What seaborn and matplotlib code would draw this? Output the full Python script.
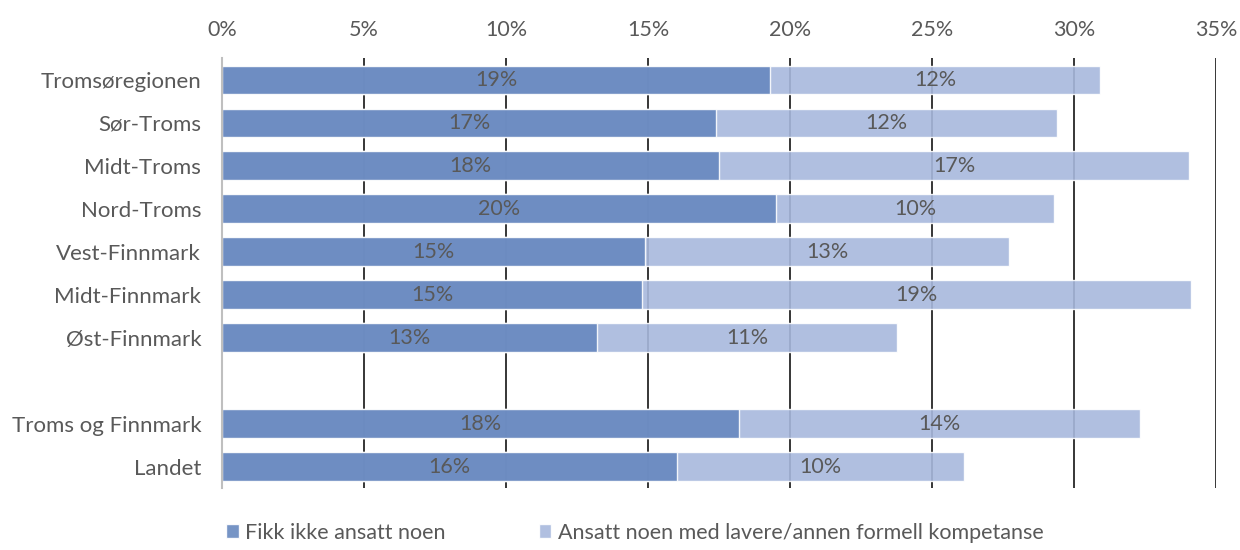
import pandas as pd
import matplotlib.pyplot as plt
import seaborn as sns
from matplotlib.patches import Patch
from matplotlib.ticker import PercentFormatter

regions = ['Tromsøregionen', 'Sør-Troms', 'Midt-Troms', 'Nord-Troms', 'Vest-Finnmark',
	'Midt-Finnmark', 'Øst-Finnmark', 'Troms og Finnmark', 'Landet']
# row order, ' ' is the empty gap row
order = regions[:7] + [' '] + regions[7:]

not_hired = [19.3, 17.4, 17.5, 19.5, 14.9, 14.8, 13.2, 18.2, 16.0]
lower_comp = [11.6, 12.0, 16.55, 9.8, 12.8, 19.3, 10.55, 14.1, 10.1]
not_hired_labels = ['19%', '17%', '18%', '20%', '15%', '15%', '13%', '18%', '16%']
lower_comp_labels = ['12%', '12%', '17%', '10%', '13%', '19%', '11%', '14%', '10%']

series_names = ['Fikk ikke ansatt noen', 'Ansatt noen med lavere/annen formell kompetanse']

dark = '#6788bf'
light = '#a8b8dd'
text_grey = '#595959'

df = pd.DataFrame({'region': regions, 'not_hired': not_hired, 'lower_comp': lower_comp})
df['total'] = df['not_hired'] + df['lower_comp']

sns.set_style('white')
plt.rcParams['font.family'] = ['Lato', 'DejaVu Sans']

fig = plt.figure(figsize=(12.4, 5.5), dpi=100)
ax = fig.add_axes([0.179, 0.1127, 0.802, 0.781])

ax.set_axisbelow(True)
ax.xaxis.grid(True, color='black', linewidth=1.1)

sns.barplot(data=df, x='total', y='region', order=order, color=light, alpha=0.9,
	width=0.67, saturation=1, ax=ax, orient='h')
sns.barplot(data=df, x='not_hired', y='region', order=order, color=dark, alpha=0.9,
	width=0.67, saturation=1, ax=ax, orient='h')

# labels in the middle of each segment
for i, r in enumerate(regions):
	y = order.index(r)
	ax.text(not_hired[i] / 2, y, not_hired_labels[i], ha='center', va='center',
		fontsize=15.5, color=text_grey)
	ax.text(not_hired[i] + lower_comp[i] / 2, y, lower_comp_labels[i], ha='center',
		va='center', fontsize=15.5, color=text_grey)

ax.set_xlim(0, 35)
ax.set_xticks(range(0, 36, 5))
ax.xaxis.set_major_formatter(PercentFormatter(decimals=0))
ax.xaxis.tick_top()
ax.tick_params(axis='x', length=0, pad=13, labelsize=15.5, labelcolor=text_grey)
ax.tick_params(axis='y', length=0, pad=15, labelsize=16, labelcolor=text_grey)
ax.set_xlabel('')
ax.set_ylabel('')

for s in ['top', 'right', 'bottom']:
	ax.spines[s].set_visible(False)
ax.spines['left'].set_color('#bfbfbf')
ax.spines['left'].set_linewidth(1.5)

handles = [Patch(facecolor=dark, alpha=0.9), Patch(facecolor=light, alpha=0.9)]
fig.legend(handles, series_names, loc='lower center', bbox_to_anchor=(0.512, -0.022), ncol=2,
	frameon=False, fontsize=15.5, handlelength=0.6, handleheight=0.6, handletextpad=0.3,
	columnspacing=4.3, labelcolor=text_grey)

plt.savefig('out.png', dpi=100)
